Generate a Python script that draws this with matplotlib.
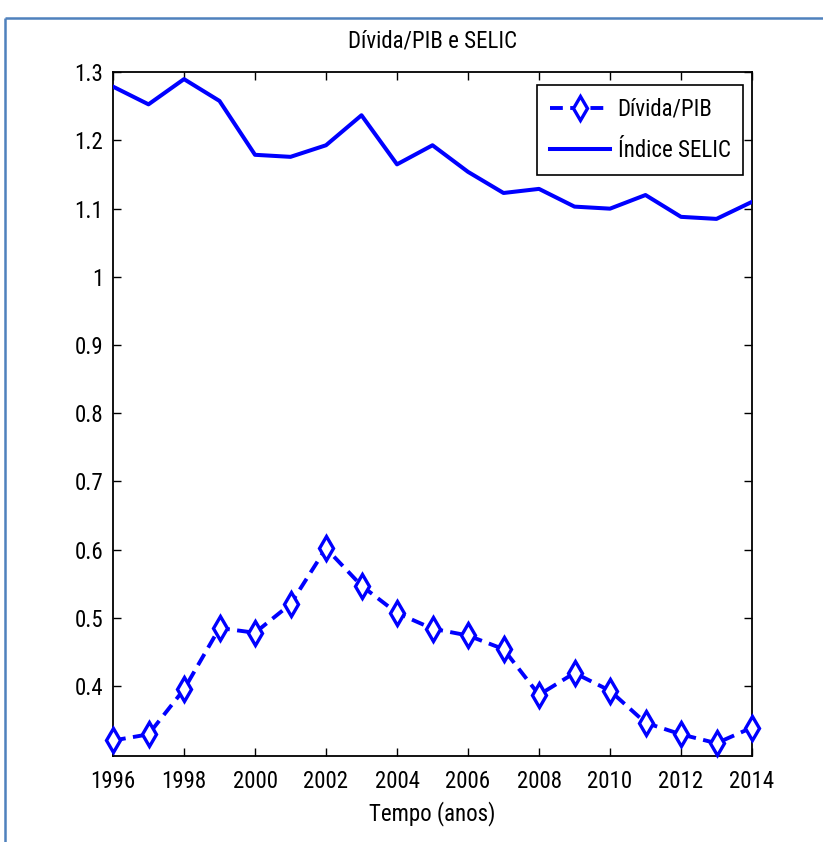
import matplotlib
matplotlib.use("Agg")
import matplotlib.pyplot as plt
from matplotlib.lines import Line2D

plt.rcParams['font.family'] = ['Roboto Condensed', 'Liberation Sans', 'DejaVu Sans']

anos = list(range(1996, 2015))
divida_pib = [0.320, 0.329, 0.395, 0.485, 0.478, 0.520, 0.602, 0.547, 0.507, 0.484,
              0.474, 0.454, 0.387, 0.419, 0.393, 0.346, 0.329, 0.316, 0.339]
indice_selic = [1.279, 1.253, 1.290, 1.258, 1.179, 1.176, 1.193, 1.237, 1.165, 1.193,
                1.154, 1.123, 1.129, 1.103, 1.100, 1.120, 1.088, 1.085, 1.110]
x_ticks = list(range(1996, 2015, 2))
y_ticks = [0.4, 0.5, 0.6, 0.7, 0.8, 0.9, 1.0, 1.1, 1.2, 1.3]
y_tick_labels = ['0.4', '0.5', '0.6', '0.7', '0.8', '0.9', '1', '1.1', '1.2', '1.3']

W, H = 823, 842
fig = plt.figure(figsize=(W / 100, H / 100), dpi=100)

# document frame around the figure
frame_color = '#4F81BD'
fig.add_artist(Line2D([5 / W, 5 / W], [0, 1 - 18 / H], transform=fig.transFigure,
                      color=frame_color, lw=1.8, solid_capstyle='butt'))
fig.add_artist(Line2D([5 / W, 1], [1 - 18 / H, 1 - 18 / H], transform=fig.transFigure,
                      color=frame_color, lw=1.8, solid_capstyle='butt'))

ax = fig.add_axes([113 / W, 1 - 755.7 / H, (752 - 113) / W, (755.7 - 72.3) / H])

blue = '#0000FF'
ax.plot(anos, divida_pib, color=blue, lw=2.8, linestyle=(0, (3.3, 1.9)),
        marker='d', markersize=12, markerfacecolor='white', markeredgecolor=blue,
        markeredgewidth=2.4, label='Dívida/PIB', clip_on=False, zorder=3)
ax.plot(anos, indice_selic, color=blue, lw=2.9, label='Índice SELIC', zorder=3)

ax.set_xlim(1996, 2014)
ax.set_ylim(0.2977, 1.3)
ax.set_xticks(x_ticks)
ax.set_yticks(y_ticks)
ax.set_yticklabels(y_tick_labels)

fs = 16.5
ax.tick_params(direction='in', length=5.5, width=1.0, top=True, right=True,
               labelsize=fs, colors='black')
ax.tick_params(axis='x', pad=10)
ax.tick_params(axis='y', pad=7)
for s in ax.spines.values():
    s.set_linewidth(1.3)
    s.set_color('black')

ax.set_title('Dívida/PIB e SELIC', fontsize=fs, pad=18)
ax.set_xlabel('Tempo (anos)', fontsize=fs, labelpad=6)

leg = ax.legend(loc='upper right', bbox_to_anchor=(0.986, 0.981), fontsize=fs,
                frameon=True, fancybox=False, edgecolor='black', framealpha=1,
                handlelength=2.6, borderpad=0.55, labelspacing=0.8,
                handletextpad=0.35, borderaxespad=0)
leg.get_frame().set_linewidth(1.2)

fig.savefig('out.png', dpi=100)
